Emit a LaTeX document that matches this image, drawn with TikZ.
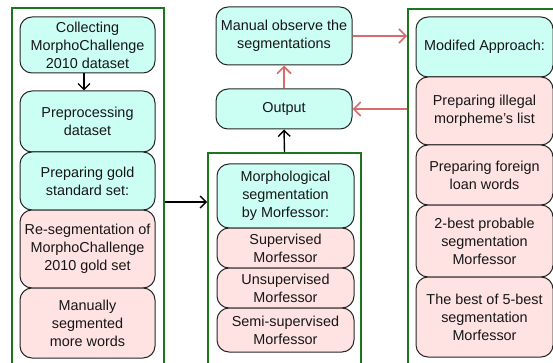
\documentclass[tikz,border=0pt]{standalone}
\usepackage{fontspec}
\setmainfont{Liberation Sans}
\usetikzlibrary{arrows.meta}
\definecolor{cyanfill}{HTML}{CCFFF4}
\definecolor{pinkfill}{HTML}{FFE2E2}
\definecolor{redarrow}{HTML}{D86C6C}
\definecolor{boxgreen}{HTML}{1C761C}
\definecolor{txt}{HTML}{161616}
\tikzset{
  base/.style={draw=black!85, line width=1pt, rounded corners=12pt, align=center,
    text=txt, inner sep=0pt, font=\fontsize{14.4}{18}\selectfont},
  cbox/.style={base, fill=cyanfill},
  pbox/.style={base, fill=pinkfill},
  gbox/.style={draw=boxgreen, line width=1.8pt, inner sep=0pt},
  blk/.style={draw=black, line width=1.4pt, -{Straight Barb[length=6pt,width=12pt,line width=1.4pt]}},
  red/.style={draw=redarrow, line width=1.6pt, -{Straight Barb[length=7pt,width=14pt,line width=1.6pt]}},
}
\begin{document}
\begin{tikzpicture}[x=1pt,y=-1pt]
\useasboundingbox (0,0) rectangle (553,363);
\clip (0,0) rectangle (553,363);
\fill[white] (0,0) rectangle (553,363);
% green frames
\node[gbox, minimum width=152pt, minimum height=367pt] (g1) at (88,191.5) {};
\node[gbox, minimum width=153pt, minimum height=222pt] (g2) at (284.5,264) {};
\node[gbox, minimum width=152pt, minimum height=366pt] (g3) at (484,192) {};
% left column
\node[cbox, minimum width=135pt, minimum height=56pt] (c1) at (87.5,45) {Collecting\\MorphoChallenge\\2010 dataset};
\node[cbox, minimum width=135pt, minimum height=61pt] (c2) at (87.5,121.5) {Preprocessing\\dataset};
\node[cbox, minimum width=135pt, minimum height=58pt] (c3) at (87.5,181) {Preparing gold\\standard set:};
\node[pbox, minimum width=135pt, minimum height=78pt] (c4) at (87.5,249) {Re-segmentation of\\MorphoChallenge\\2010 gold set};
\node[pbox, minimum width=135pt, minimum height=70pt] (c5) at (87.5,323) {Manually\\segmented\\more words};
% middle
\node[cbox, minimum width=136pt, minimum height=58pt] (mo) at (284,36) {Manual observe the\\segmentations};
\node[cbox, minimum width=136pt, minimum height=40pt] (out) at (284,109) {Output};
\node[cbox, minimum width=137pt, minimum height=64pt] (m1) at (285.5,196) {Morphological\\segmentation\\by Morfessor:};
\node[pbox, minimum width=137pt, minimum height=40pt] (m2) at (285.5,248) {Supervised\\Morfessor};
\node[pbox, minimum width=137pt, minimum height=40pt] (m3) at (285.5,288) {Unsupervised\\Morfessor};
\node[pbox, minimum width=137pt, minimum height=44pt] (m4) at (285.5,330) {Semi-supervised\\Morfessor};
% right
\node[cbox, minimum width=137pt, minimum height=60pt] (r1) at (484.5,47) {Modifed Approach:};
\node[pbox, minimum width=137pt, minimum height=68pt] (r2) at (484.5,111) {Preparing illegal\\morpheme’s list};
\node[pbox, minimum width=137pt, minimum height=60pt] (r3) at (484.5,175) {Preparing foreign\\loan words};
\node[pbox, minimum width=137pt, minimum height=72pt] (r4) at (484.5,241) {2-best probable\\segmentation\\Morfessor};
\node[pbox, minimum width=137pt, minimum height=80pt] (r5) at (484.5,317) {The best of 5-best\\segmentation\\Morfessor};
% connectors
\draw[blk] (c1.south -| 84,0) -- (c2.north -| 84,0);
\draw[blk] (g1.east |- 0,202) -- (g2.west |- 0,202);
\draw[blk] (g2.north) -- (out.south);
\draw[red] (out.north) -- (mo.south);
\draw[red] (mo.east) -- (g3.west |- mo.east);
\draw[red] (g3.west |- out.east) -- (out.east);
\end{tikzpicture}
\end{document}
